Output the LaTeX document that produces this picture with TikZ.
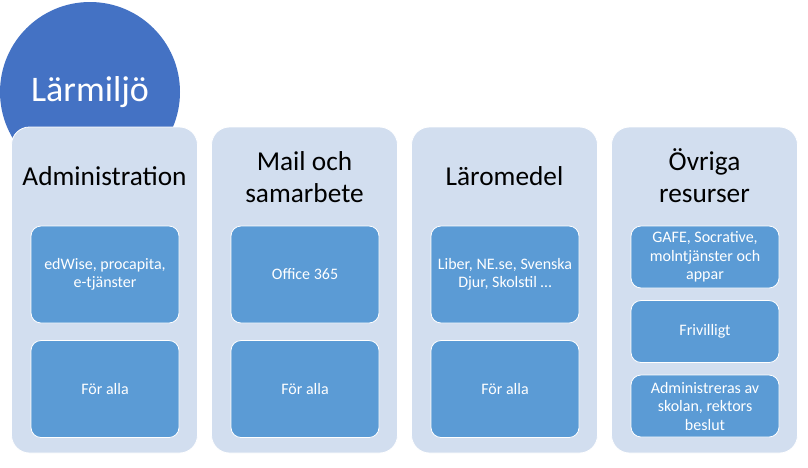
\documentclass[tikz,border=0pt]{standalone}
\usepackage{fontspec}
\setmainfont{Carlito}
\usepackage{tikz}

\definecolor{circleblue}{HTML}{4472C4}
\definecolor{colfill}{HTML}{D2DEEF}
\definecolor{itemblue}{HTML}{5B9BD5}

\begin{document}
\begin{tikzpicture}[x=1pt,y=-1pt,
    every node/.style={inner sep=0pt,align=center},
    topcircle/.style={circle,fill=circleblue,minimum size=180pt,text=white,font=\fontsize{36}{40}\selectfont},
    column/.style={rectangle,rounded corners=18pt,fill=colfill,draw=white,line width=0.8pt,minimum width=186pt,minimum height=326pt},
    header/.style={font=\fontsize{27.3}{32}\selectfont},
    itembig/.style={rectangle,rounded corners=10pt,fill=itemblue,draw=white,line width=0.8pt,minimum width=148pt,minimum height=97pt,text=white,font=\fontsize{16}{17.5}\selectfont},
    itemsmall/.style={itembig,minimum height=62pt,font=\fontsize{16}{18.5}\selectfont}]
  \useasboundingbox (0,0) rectangle (808,467);
  \node[topcircle] (circ) at (90,92) {};
  % columns
  \node[column] (col1) at (104.5,290) {};
  \node[column] (col2) at (304.5,290) {};
  \node[column] (col3) at (504.5,290) {};
  \node[column] (col4) at (704.5,290) {};
  \node[font=\fontsize{36}{40}\selectfont,text=white] (title) at (circ) {Lärmiljö};
  % headers
  \node[header] (head1) at (104.5,176) {Administration};
  \node[header] (head2) at (304.5,177) {Mail och\\samarbete};
  \node[header] (head3) at (504.5,176) {Läromedel};
  \node[header] (head4) at (704.5,176) {Övriga\\resurser};
  % items
  \node[itembig] (adm1) at (105,274.5) {edWise, procapita,\\e-tjänster};
  \node[itembig] (adm2) at (105,389) {För alla};
  \node[itembig] (mail1) at (305,274.5) {Office 365};
  \node[itembig] (mail2) at (305,389) {För alla};
  \node[itembig] (lar1) at (505,274.5) {Liber, NE.se, Svenska\\Djur, Skolstil \dots};
  \node[itembig] (lar2) at (505,389) {För alla};
  \node[itemsmall] (ovr1) at (705,257) {GAFE, Socrative,\\molntjänster och\\appar};
  \node[itemsmall] (ovr2) at (705,331.5) {Frivilligt};
  \node[itemsmall] (ovr3) at (705,406) {Administreras av\\skolan, rektors\\beslut};
\end{tikzpicture}
\end{document}
